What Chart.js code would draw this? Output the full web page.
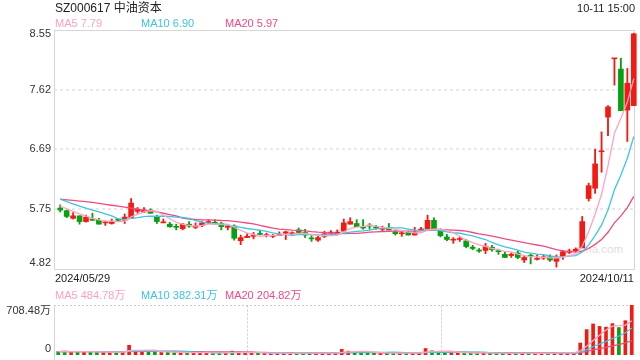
<!DOCTYPE html>
<html>
<head>
<meta charset="utf-8">
<title>SZ000617 中油资本</title>
<script src="https://cdn.jsdelivr.net/npm/chart.js@4.4.1/dist/chart.umd.min.js"></script>
<style>
  body { margin: 0; background: #fff; }
  #wrap { position: relative; width: 640px; height: 360px; overflow: hidden;
          font-family: 'Liberation Sans', Arial, 'Noto Sans CJK SC', sans-serif; color: #222; }
  #wrap canvas { position: absolute; left: 0; }
  .t { position: absolute; font-size: 11px; line-height: 12px; white-space: nowrap; }
  .ma5 { color: #ff9fbf; }
  .ma10 { color: #3cc3de; }
  .ma20 { color: #ef4a80; }
</style>
</head>
<body>
<div id="wrap">
  <div class="t" style="left:577px;top:243px;font-size:11.5px;color:#dedede;">sina.com</div>
  <canvas id="kline" width="640" height="280" style="top:0"></canvas>
  <canvas id="volume" width="640" height="80" style="top:280px"></canvas>

  <div class="t" id="title" style="left:55px;top:1px;font-size:12px;line-height:14px;"></div>
  <div class="t" id="stamp" style="right:5px;top:2px;"></div>
  <div class="t ma5" id="pMa5" style="left:55px;top:17px;"></div>
  <div class="t ma10" id="pMa10" style="left:141px;top:17px;"></div>
  <div class="t ma20" id="pMa20" style="left:225px;top:17px;"></div>
  <div class="t" id="firstDate" style="left:55px;top:272px;"></div>
  <div class="t" id="lastDate" style="right:6px;top:272px;"></div>
  <div class="t ma5" id="vMa5" style="left:55px;top:289px;"></div>
  <div class="t ma10" id="vMa10" style="left:141px;top:289px;"></div>
  <div class="t ma20" id="vMa20" style="left:225px;top:289px;"></div>
</div>
<script>
// DATA
const stockName = 'SZ000617 中油资本';
const stampText = '10-11 15:00';

const dates = [
  '2024/05/29','2024/05/30','2024/05/31',
  '2024/06/03','2024/06/04','2024/06/05','2024/06/06','2024/06/07','2024/06/11','2024/06/12','2024/06/13','2024/06/14',
  '2024/06/17','2024/06/18','2024/06/19','2024/06/20','2024/06/21','2024/06/24','2024/06/25','2024/06/26','2024/06/27','2024/06/28',
  '2024/07/01','2024/07/02','2024/07/03','2024/07/04','2024/07/05','2024/07/08','2024/07/09','2024/07/10','2024/07/11','2024/07/12',
  '2024/07/15','2024/07/16','2024/07/17','2024/07/18','2024/07/19','2024/07/22','2024/07/23','2024/07/24','2024/07/25','2024/07/26',
  '2024/07/29','2024/07/30','2024/07/31',
  '2024/08/01','2024/08/02','2024/08/05','2024/08/06','2024/08/07','2024/08/08','2024/08/09','2024/08/12','2024/08/13','2024/08/14',
  '2024/08/15','2024/08/16','2024/08/19','2024/08/20','2024/08/21','2024/08/22','2024/08/23','2024/08/26','2024/08/27','2024/08/28',
  '2024/08/29','2024/08/30',
  '2024/09/02','2024/09/03','2024/09/04','2024/09/05','2024/09/06','2024/09/09','2024/09/10','2024/09/11','2024/09/12','2024/09/13',
  '2024/09/18','2024/09/19','2024/09/20','2024/09/23','2024/09/24','2024/09/25','2024/09/26','2024/09/27','2024/09/30',
  '2024/10/08','2024/10/09','2024/10/10','2024/10/11'
];

const openPrices = [
  5.77,5.73,5.61,5.65,5.56,5.60,5.58,5.54,5.53,5.60,
  5.58,5.61,5.72,5.71,5.74,5.64,5.54,5.52,5.48,5.45,
  5.52,5.47,5.50,5.54,5.55,5.53,5.47,5.49,5.26,5.31,
  5.33,5.37,5.34,5.33,5.34,5.38,5.37,5.43,5.39,5.30,
  5.27,5.33,5.38,5.38,5.41,5.52,5.53,5.47,5.50,5.47,
  5.44,5.47,5.40,5.37,5.39,5.35,5.43,5.45,5.58,5.42,
  5.32,5.27,5.28,5.26,5.16,5.11,5.11,5.16,5.10,5.05,
  5.03,5.07,4.96,5.03,4.97,4.99,5.01,4.94,5.02,5.08,
  5.10,5.15,5.92,6.08,6.65,7.19,8.10,7.94,7.30,7.37
];
const highPrices = [
  5.82,5.74,5.70,5.65,5.66,5.69,5.61,5.57,5.60,5.60,
  5.68,5.92,5.78,5.78,5.76,5.66,5.60,5.55,5.52,5.53,
  5.56,5.54,5.56,5.59,5.59,5.55,5.50,5.51,5.35,5.37,
  5.39,5.42,5.38,5.36,5.40,5.41,5.40,5.46,5.44,5.34,
  5.33,5.41,5.42,5.43,5.60,5.62,5.59,5.59,5.53,5.50,
  5.49,5.53,5.42,5.41,5.41,5.47,5.47,5.66,5.62,5.45,
  5.36,5.31,5.32,5.28,5.19,5.14,5.22,5.19,5.13,5.09,
  5.07,5.10,5.03,5.05,5.04,5.04,5.04,5.04,5.11,5.13,
  5.15,5.64,6.16,6.69,6.96,7.37,8.10,8.11,7.95,8.50
];
const lowPrices = [
  5.71,5.62,5.60,5.52,5.55,5.58,5.52,5.50,5.52,5.57,
  5.53,5.61,5.69,5.70,5.69,5.53,5.54,5.47,5.43,5.43,
  5.47,5.45,5.48,5.53,5.52,5.43,5.43,5.27,5.20,5.31,
  5.29,5.35,5.32,5.31,5.34,5.28,5.34,5.38,5.31,5.25,
  5.25,5.31,5.35,5.35,5.40,5.52,5.48,5.44,5.44,5.44,
  5.41,5.43,5.35,5.33,5.35,5.35,5.42,5.45,5.45,5.32,
  5.26,5.22,5.25,5.15,5.12,5.08,5.06,5.10,5.05,5.00,
  5.00,4.98,4.92,4.90,4.96,4.97,4.94,4.85,4.97,5.06,
  5.09,5.15,5.88,6.00,6.33,6.90,7.69,7.29,6.81,7.37
];
const closePrices = [
  5.74,5.64,5.65,5.56,5.63,5.58,5.52,5.55,5.56,5.58,
  5.63,5.85,5.75,5.74,5.69,5.56,5.55,5.48,5.47,5.52,
  5.49,5.49,5.54,5.56,5.53,5.48,5.49,5.30,5.31,5.33,
  5.35,5.36,5.35,5.34,5.35,5.40,5.38,5.39,5.35,5.29,
  5.31,5.37,5.39,5.39,5.54,5.56,5.48,5.46,5.49,5.46,
  5.45,5.43,5.37,5.38,5.35,5.39,5.44,5.58,5.45,5.34,
  5.28,5.28,5.29,5.17,5.14,5.10,5.17,5.12,5.09,5.00,
  5.05,5.00,5.00,5.02,4.98,5.01,4.96,4.99,5.09,5.10,
  5.13,5.56,6.12,6.46,6.66,7.35,8.10,7.29,7.72,8.49
];
// volume, 万
const volumes = [
  48,52,45,50,46,40,44,38,40,36,
  48,138,60,50,46,50,36,38,34,38,
  32,30,34,30,28,32,28,55,45,32,
  30,26,24,22,24,30,22,26,28,30,
  26,28,24,30,80,55,48,40,30,26,
  24,26,30,24,26,34,32,92,60,45,
  38,30,26,34,28,24,32,26,24,26,
  24,28,26,24,22,24,28,38,32,28,
  25,170,360,440,405,395,445,389,486,708.48
];

// moving averages at the left edge (earlier days are not shown)
const ma5Head = [5.80,5.76,5.72,5.68];
const ma10Head = [5.91,5.87,5.835,5.80,5.77,5.74,5.71,5.68,5.65];
const ma20Head = [5.91,5.90,5.89,5.88,5.87,5.86,5.845,5.83,5.815,5.80,5.785,5.77,5.755,5.74,5.725,5.71,5.69,5.67,5.65];

const priceTicks = [4.82, 5.75, 6.69, 7.62, 8.55];
const volumeTicks = [0, 708.48];
const priceMaLegend = ['7.79', '6.90', '5.97'];
const volumeMaLegend = ['484.78', '382.31', '204.82'];

// STYLE
const RED = '#f01c14';
const GREEN = '#06a010';
const MA_COLORS = ['#ffa3c2', '#3fc5e0', '#ef4b82'];
const FONT = "'Liberation Sans', Arial, 'Noto Sans CJK SC', sans-serif";
const FRAME = { left: 54, right: 634 };

function mean(list) {
  return list.reduce((s, v) => s + v, 0) / list.length;
}

function movingAverage(values, n, head) {
  return values.map((v, i) => {
    if (i < n - 1) return head ? head[i] : mean(values.slice(0, i + 1));
    return mean(values.slice(i - n + 1, i + 1));
  });
}

const candleColors = closePrices.map((c, i) => c >= openPrices[i] ? RED : GREEN);
const bodies = openPrices.map((o, i) => [o, closePrices[i]]);
const wicks = lowPrices.map((l, i) => [l, highPrices[i]]);

function maLine(label, data, color) {
  return {
    type: 'line', label, data,
    borderColor: color, borderWidth: 1.3,
    pointRadius: 0, pointHoverRadius: 0, tension: 0, order: 0
  };
}

// TEXTS
document.getElementById('title').textContent = stockName;
document.getElementById('stamp').textContent = stampText;
document.getElementById('firstDate').textContent = dates[0];
document.getElementById('lastDate').textContent = dates[dates.length - 1];
['pMa5', 'pMa10', 'pMa20'].forEach((id, k) => {
  document.getElementById(id).textContent = 'MA' + [5, 10, 20][k] + ' ' + priceMaLegend[k];
});
['vMa5', 'vMa10', 'vMa20'].forEach((id, k) => {
  document.getElementById(id).textContent = 'MA' + [5, 10, 20][k] + ' ' + volumeMaLegend[k] + '万';
});

// FRAME + GRID
const klineFrame = {
  id: 'klineFrame',
  beforeDatasetsDraw(chart) {
    const { ctx, chartArea: a, scales: { y } } = chart;
    ctx.save();
    ctx.strokeStyle = '#e8e8e8';
    ctx.lineWidth = 2;
    ctx.setLineDash([3, 3]);
    priceTicks.slice(1, -1).forEach(v => {
      const py = Math.round(y.getPixelForValue(v));
      ctx.beginPath();
      ctx.moveTo(FRAME.left, py);
      ctx.lineTo(FRAME.right, py);
      ctx.stroke();
    });
    ctx.setLineDash([]);
    ctx.lineWidth = 1;
    ctx.strokeStyle = '#d6d6d6';
    ctx.strokeRect(FRAME.left + 0.5, Math.round(a.top) + 0.5, FRAME.right - FRAME.left, Math.round(a.bottom - a.top));
    ctx.restore();
  }
};

const volumeFrame = {
  id: 'volumeFrame',
  beforeDatasetsDraw(chart) {
    const { ctx, chartArea: a } = chart;
    const top = Math.round(a.top) + 0.5;
    ctx.save();
    ctx.strokeStyle = '#cccccc';
    ctx.lineWidth = 1;
    ctx.setLineDash([2, 2]);
    ctx.beginPath();
    ctx.moveTo(FRAME.left, top);
    ctx.lineTo(FRAME.right, top);
    ctx.stroke();
    [1, 2].forEach(k => {
      const x = Math.round(FRAME.left + (FRAME.right - FRAME.left) * k / 3) + 0.5;
      ctx.beginPath();
      ctx.moveTo(x, top);
      ctx.lineTo(x, chart.height);
      ctx.stroke();
    });
    ctx.setLineDash([]);
    ctx.strokeStyle = '#d6d6d6';
    ctx.beginPath();
    ctx.moveTo(FRAME.left + 0.5, top);
    ctx.lineTo(FRAME.left + 0.5, chart.height);
    ctx.stroke();
    ctx.restore();
  }
};

// edge labels sit inside the frame: push the top one down, the bottom one up
function edgeLabel(text, index, count) {
  if (index === 0) return [text, ''];
  if (index === count - 1) return ['', text];
  return text;
}

// keep the axis from asking for extra room for its edge labels
function fixAxis(width) {
  return scale => {
    scale.width = width;
    scale.paddingTop = 0;
    scale.paddingBottom = 0;
  };
}

// K-LINE CHART
new Chart(document.getElementById('kline'), {
  type: 'bar',
  data: {
    labels: dates,
    datasets: [
      maLine('MA5', movingAverage(closePrices, 5, ma5Head), MA_COLORS[0]),
      maLine('MA10', movingAverage(closePrices, 10, ma10Head), MA_COLORS[1]),
      maLine('MA20', movingAverage(closePrices, 20, ma20Head), MA_COLORS[2]),
      { label: 'body', data: bodies, backgroundColor: candleColors, barThickness: 5,
        minBarLength: 1, grouped: false, order: 1 },
      { label: 'wick', data: wicks, backgroundColor: candleColors, barThickness: 1.2,
        grouped: false, order: 2 }
    ]
  },
  options: {
    responsive: false,
    animation: false,
    events: [],
    layout: { padding: { top: 30, right: 3, bottom: 11, left: 0 } },
    plugins: { legend: { display: false }, tooltip: { enabled: false } },
    scales: {
      x: { display: false, offset: true },
      y: {
        min: priceTicks[0],
        max: priceTicks[priceTicks.length - 1],
        afterBuildTicks: scale => { scale.ticks = priceTicks.map(v => ({ value: v })); },
        afterFit: fixAxis(57),
        grid: { display: false, drawTicks: false },
        border: { display: false },
        ticks: {
          padding: 6,
          color: '#333',
          autoSkip: false,
          font: ctx => ({ family: FONT, size: 11, lineHeight: ctx.index === 0 ? '13px' : '8px' }),
          callback: (value, index, ticks) => edgeLabel(Number(value).toFixed(2), index, ticks.length)
        }
      }
    }
  },
  plugins: [klineFrame]
});

// VOLUME CHART
new Chart(document.getElementById('volume'), {
  type: 'bar',
  data: {
    labels: dates,
    datasets: [
      maLine('MA5', movingAverage(volumes, 5), MA_COLORS[0]),
      maLine('MA10', movingAverage(volumes, 10), MA_COLORS[1]),
      maLine('MA20', movingAverage(volumes, 20), MA_COLORS[2]),
      { label: 'volume', data: volumes, backgroundColor: candleColors, barThickness: 3,
        minBarLength: 1, order: 1 }
    ]
  },
  options: {
    responsive: false,
    animation: false,
    events: [],
    layout: { padding: { top: 25, right: 5, bottom: 5, left: 0 } },
    plugins: { legend: { display: false }, tooltip: { enabled: false } },
    scales: {
      x: { display: false, offset: true },
      y: {
        min: volumeTicks[0],
        max: volumeTicks[volumeTicks.length - 1],
        afterBuildTicks: scale => { scale.ticks = volumeTicks.map(v => ({ value: v })); },
        afterFit: fixAxis(55),
        grid: { display: false, drawTicks: false },
        border: { display: false },
        ticks: {
          padding: 4,
          color: '#333',
          autoSkip: false,
          font: ctx => ({ family: FONT, size: 11, lineHeight: ctx.index === 0 ? '13px' : '12px' }),
          callback: (value, index, ticks) =>
            edgeLabel(value === 0 ? '0' : Number(value).toFixed(2) + '万', index, ticks.length)
        }
      }
    }
  },
  plugins: [volumeFrame]
});
</script>
</body>
</html>
